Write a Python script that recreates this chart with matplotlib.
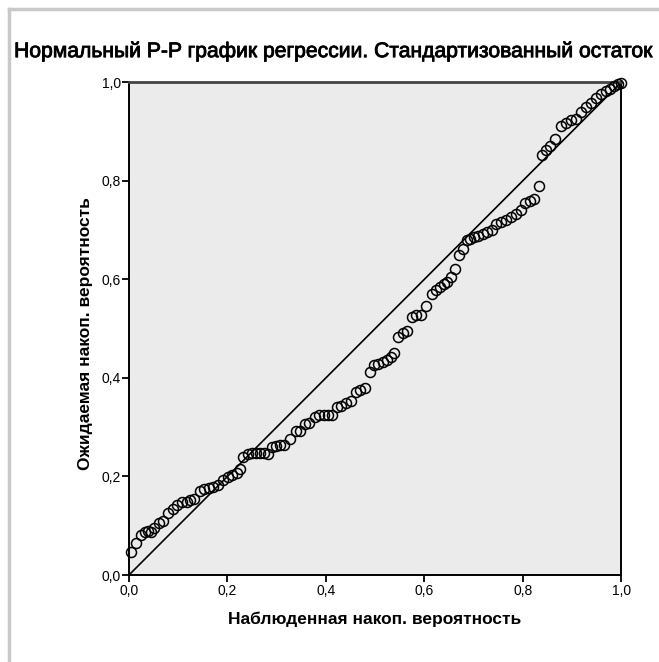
import matplotlib.pyplot as plt
import matplotlib.patheffects as pe
from matplotlib.lines import Line2D
from matplotlib.ticker import FuncFormatter

TITLE = "Нормальный P-P график регрессии. Стандартизованный остаток"
XLABEL = "Наблюденная накоп. вероятность"
YLABEL = "Ожидаемая накоп. вероятность"

# observed cumulative probability
observed = [
    0.004, 0.014, 0.024, 0.032, 0.039, 0.045, 0.051, 0.061, 0.069, 0.079,
    0.089, 0.097, 0.108, 0.118, 0.124, 0.132, 0.144, 0.152, 0.162, 0.171,
    0.181, 0.191, 0.201, 0.209, 0.219, 0.225, 0.231, 0.242, 0.250, 0.258,
    0.266, 0.274, 0.282, 0.290, 0.298, 0.306, 0.315, 0.327, 0.339, 0.347,
    0.357, 0.365, 0.378, 0.386, 0.396, 0.404, 0.412, 0.422, 0.430, 0.441,
    0.451, 0.461, 0.469, 0.479, 0.489, 0.497, 0.506, 0.516, 0.524, 0.532,
    0.538, 0.546, 0.556, 0.565, 0.575, 0.583, 0.593, 0.603, 0.615, 0.623,
    0.631, 0.640, 0.646, 0.654, 0.662, 0.670, 0.678, 0.686, 0.692, 0.700,
    0.709, 0.719, 0.727, 0.737, 0.745, 0.755, 0.765, 0.776, 0.786, 0.796,
    0.804, 0.814, 0.822, 0.832, 0.839, 0.847, 0.855, 0.865, 0.878, 0.888,
    0.898, 0.908, 0.918, 0.928, 0.938, 0.948, 0.958, 0.969, 0.977, 0.985,
    0.993, 0.999,
]

# expected cumulative probability
expected = [
    0.047, 0.064, 0.081, 0.088, 0.089, 0.087, 0.095, 0.106, 0.110, 0.125,
    0.133, 0.142, 0.149, 0.149, 0.152, 0.155, 0.170, 0.175, 0.177, 0.179,
    0.182, 0.193, 0.198, 0.203, 0.206, 0.216, 0.239, 0.245, 0.247, 0.247,
    0.247, 0.248, 0.246, 0.260, 0.261, 0.263, 0.263, 0.275, 0.292, 0.293,
    0.307, 0.308, 0.320, 0.325, 0.325, 0.325, 0.325, 0.340, 0.343, 0.348,
    0.353, 0.372, 0.376, 0.380, 0.411, 0.425, 0.429, 0.433, 0.437, 0.443,
    0.451, 0.482, 0.490, 0.494, 0.524, 0.527, 0.527, 0.545, 0.571, 0.578,
    0.585, 0.590, 0.595, 0.605, 0.620, 0.649, 0.661, 0.679, 0.682, 0.685,
    0.688, 0.692, 0.695, 0.700, 0.713, 0.716, 0.720, 0.726, 0.733, 0.740,
    0.755, 0.759, 0.763, 0.789, 0.852, 0.862, 0.871, 0.884, 0.910, 0.916,
    0.923, 0.926, 0.939, 0.950, 0.957, 0.967, 0.976, 0.981, 0.986, 0.991,
    0.995, 0.999,
]

ticks = [0.0, 0.2, 0.4, 0.6, 0.8, 1.0]

plt.rcParams["font.family"] = ["Liberation Sans", "DejaVu Sans"]

fig = plt.figure(figsize=(6.59, 6.62), dpi=100)
ax = fig.add_axes([0.1957, 0.1314, 0.7473, 0.7447])
ax.set_facecolor("#ebebeb")

# frame around the chart
fig.add_artist(Line2D([0.014, 0.014], [0.0, 0.986], color="#c8c8c8", lw=2.5))
fig.add_artist(Line2D([0.014, 1.0], [0.986, 0.986], color="#c8c8c8", lw=2.5))

ax.plot([0, 1], [0, 1], color="black", lw=1.2, zorder=2)
ax.plot(observed, expected, linestyle="none", marker="o", markersize=7.2,
        markerfacecolor="none", markeredgecolor="black", markeredgewidth=1.1,
        zorder=3, clip_on=False)

ax.set_xlim(0, 1)
ax.set_ylim(0, 1)
ax.set_xticks(ticks)
ax.set_yticks(ticks)
fmt = FuncFormatter(lambda v, p: f"{v:.1f}".replace(".", ","))
ax.xaxis.set_major_formatter(fmt)
ax.yaxis.set_major_formatter(fmt)
ax.tick_params(direction="out", length=5, width=1.3, labelsize=10, pad=1.5,
               colors="black")
ax.tick_params(axis="y", pad=1)

for side in ["left", "bottom", "right"]:
    ax.spines[side].set_linewidth(1.4)
    ax.spines[side].set_color("black")
ax.spines["top"].set_linewidth(2.0)
ax.spines["top"].set_color("#444444")

title = fig.text(0.507, 0.922, TITLE, ha="center", va="center", fontsize=15.2)
title.set_path_effects([pe.withStroke(linewidth=0.6, foreground="black")])
fig.text(0.568, 0.065, XLABEL, ha="center", va="center", fontsize=12.5,
         fontweight="bold")
fig.text(0.129, 0.496, YLABEL, ha="center", va="center", fontsize=12.5,
         fontweight="bold", rotation=90)

fig.savefig("out.png", dpi=100)
